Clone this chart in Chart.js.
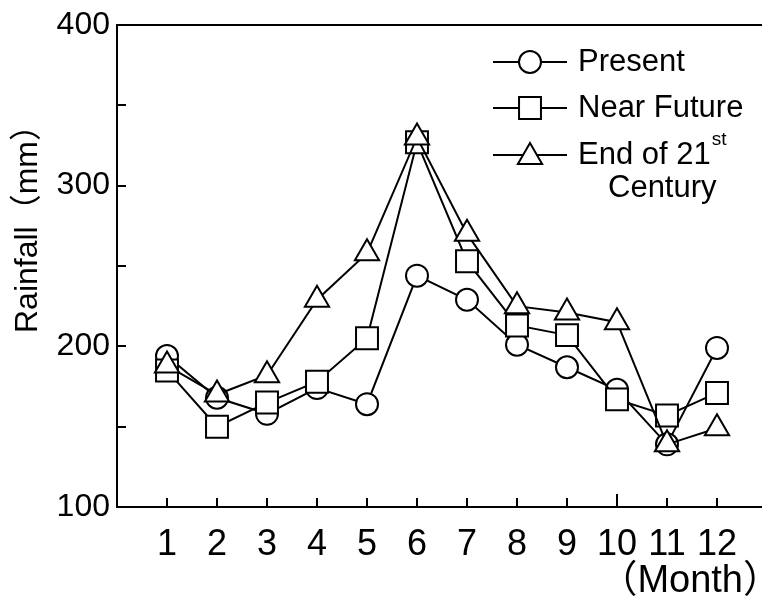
<!DOCTYPE html>
<html>
<head>
<meta charset="utf-8">
<script src="https://cdn.jsdelivr.net/npm/chart.js@4/dist/chart.umd.min.js"></script>
<style>
html,body{margin:0;padding:0;background:#fff;}
#wrap{width:762px;height:603px;}
</style>
</head>
<body>
<div id="wrap"><canvas id="c" width="762" height="603"></canvas></div>
<script>
// ---- data ----
const months = [1,2,3,4,5,6,7,8,9,10,11,12];
const monthLabels = ['1','2','3','4','5','6','7','8','9','10','11','12'];
const present    = [194,168,158,174,164,244,229,201,187,173,139,199];
const nearFuture = [185,150,165,178,205,327,253,213,207,167,157,171];
const end21      = [188,170,182,229,258,330,270,225,221,215,139,149];
const yMajorTicks = [100,200,300,400];
const yMinorTicks = [150,250,350];
const seriesNames = ['Present','Near Future','End of 21'];
const yTitle = 'Rainfall（mm）';
const xTitle = '（Month）';

const FONT = '"Liberation Sans", Arial, "Noto Sans CJK JP", sans-serif';

function pts(arr){ return months.map((m,i)=>({x:m,y:arr[i]})); }

const common = {
  borderColor:'#000', borderWidth:2, pointBackgroundColor:'#fff',
  pointBorderColor:'#000', pointBorderWidth:2, tension:0, fill:false
};

const decor = {
  id:'decor',
  afterDraw(chart){
    const ctx = chart.ctx, a = chart.chartArea;
    const xs = chart.scales.x, ys = chart.scales.y;
    ctx.save();
    ctx.strokeStyle = '#000'; ctx.lineWidth = 2; ctx.lineCap='butt';
    // axes
    ctx.beginPath();
    ctx.moveTo(chart.width, a.top); ctx.lineTo(a.left, a.top);
    ctx.lineTo(a.left, a.bottom); ctx.lineTo(chart.width, a.bottom);
    ctx.stroke();
    // y ticks (inward)
    ctx.beginPath();
    yMajorTicks.concat(yMinorTicks).forEach(v=>{
      const y = Math.round(ys.getPixelForValue(v));
      ctx.moveTo(a.left, y); ctx.lineTo(a.left+9, y);
    });
    // x ticks (inward)
    months.forEach(m=>{
      const x = Math.round(xs.getPixelForValue(m));
      ctx.moveTo(x, a.bottom); ctx.lineTo(x, a.bottom-(m===10?13:9));
    });
    ctx.stroke();

    // y title
    ctx.fillStyle='#000';
    ctx.save();
    ctx.translate(28, 221);
    ctx.rotate(-Math.PI/2);
    ctx.font = '32px '+FONT;
    ctx.textAlign='center'; ctx.textBaseline='middle';
    ctx.fillText(yTitle,0,0);
    ctx.restore();

    // x title
    ctx.font = '38px '+FONT;
    ctx.textAlign='right'; ctx.textBaseline='middle';
    ctx.fillText(xTitle, 781, 582);

    // legend
    const rows = [62,108,155];
    const styles = ['circle','rect','triangle'];
    const radii = [11,15.5,14];
    rows.forEach((ry,i)=>{
      ctx.beginPath();
      ctx.moveTo(493, ry); ctx.lineTo(567, ry); ctx.stroke();
      const opts = {pointStyle:styles[i], radius:radii[i], rotation:0, borderWidth:2};
      ctx.fillStyle='#fff'; ctx.strokeStyle='#000'; ctx.lineWidth=2;
      Chart.helpers.drawPoint(ctx, opts, 530, styles[i]==='triangle'? ry+2: ry);
      ctx.fillStyle='#000';
      ctx.font='31px '+FONT;
      ctx.textAlign='left'; ctx.textBaseline='middle';
      ctx.fillText(seriesNames[i], 578, ry);
    });
    ctx.font='31px '+FONT;
    const w = ctx.measureText(seriesNames[2]).width;
    ctx.font='19px '+FONT;
    ctx.fillText('st', 578+w+1, rows[2]-15);
    ctx.font='31px '+FONT;
    ctx.fillText('Century', 608, 188);
    ctx.restore();
  }
};

new Chart(document.getElementById('c'), {
  type:'line',
  data:{
    datasets:[
      Object.assign({label:seriesNames[0], data:pts(present), pointStyle:'circle', pointRadius:11, order:3}, common),
      Object.assign({label:seriesNames[1], data:pts(nearFuture), pointStyle:'rect', pointRadius:15.5, order:2}, common),
      Object.assign({label:seriesNames[2], data:pts(end21), pointStyle:'triangle', pointRadius:14, order:1}, common)
    ]
  },
  options:{
    responsive:false, animation:false, devicePixelRatio:1,
    layout:{autoPadding:false, padding:{left:0,right:0,top:25,bottom:0}},
    plugins:{legend:{display:false}, tooltip:{enabled:false}},
    elements:{point:{hoverRadius:11}},
    scales:{
      x:{
        type:'linear', min:0, max:12.9,
        grid:{display:false, drawTicks:false}, border:{display:false},
        afterBuildTicks(s){ s.ticks = months.map(v=>({value:v})); },
        afterFit(s){ s.height = 96; s.paddingLeft = 0; s.paddingRight = 0; },
        ticks:{
          autoSkip:false, maxRotation:0, padding:16, color:'#000',
          font:{family:FONT, size:36},
          callback:(v)=> monthLabels[months.indexOf(v)] ?? ''
        }
      },
      y:{
        min:100, max:400,
        grid:{display:false, drawTicks:false}, border:{display:false},
        afterBuildTicks(s){ s.ticks = yMajorTicks.map(v=>({value:v})); },
        afterFit(s){ s.width = 117; s.paddingTop = 0; s.paddingBottom = 0; },
        ticks:{ padding:7, color:'#000', font:{family:FONT, size:32} }
      }
    }
  },
  plugins:[decor]
});
</script>
</body>
</html>
